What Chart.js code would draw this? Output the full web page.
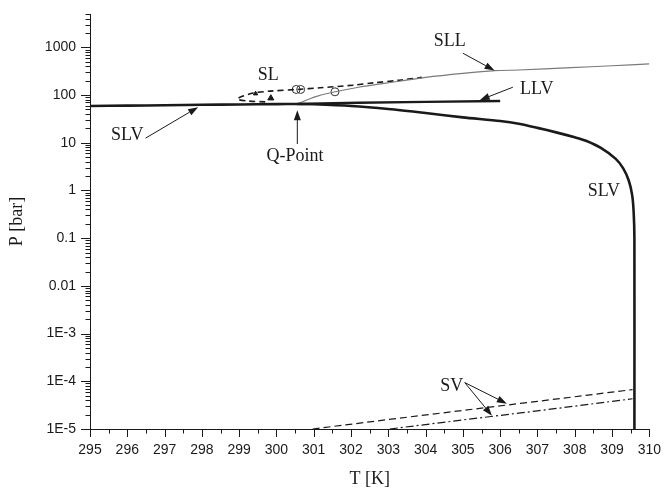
<!DOCTYPE html>
<html><head><meta charset="utf-8">
<script src="https://cdn.jsdelivr.net/npm/chart.js@4.4.1/dist/chart.umd.min.js"></script>
<style>html,body{margin:0;padding:0;background:#fff;}#wrap{width:666px;height:491px;}</style>
</head><body><div id="wrap"><canvas id="c" width="666" height="491"></canvas></div>
<script>
// ---- data (T in K, P in bar) ----
const slvT = [295, 296, 297, 298, 299, 300, 300.56, 301, 302, 303, 304, 305, 306, 306.5, 307, 307.5, 308, 308.3, 308.7, 309.1, 309.3, 309.45, 309.54, 309.58, 309.6, 309.6];
const slvP = [59, 60, 61, 62.5, 63.5, 64.5, 65, 64, 59, 51, 42, 34, 28.5, 25, 20.5, 16.5, 13, 11, 7.8, 4.6, 2.9, 1.6, 0.8, 0.35, 0.1, 1e-5];
const llvT = [300.56, 302.2, 304, 306];
const llvP = [65, 69, 72, 75];
const sllT = [300.56, 300.8, 301.1, 301.57, 302.2, 303.3, 304, 305, 305.85, 306.5, 307.9, 309, 310];
const sllP = [65, 78, 95, 117, 146, 195, 235, 285, 325, 335, 375, 410, 450];
const slT = [299.7, 299.25, 298.95, 299.1, 299.38, 299.83, 300.56, 301.17, 302.05, 302.6, 303.3, 303.9];
const slP = [72, 75, 82, 95, 110, 121, 131, 142, 161, 180, 205, 235];
const svT = [300.97, 303, 305, 307, 309.55];
const svP = [1.0e-5, 1.58e-5, 2.45e-5, 3.8e-5, 6.7e-5];
const sv2T = [303.04, 305, 307, 309.55];
const sv2P = [1.0e-5, 1.55e-5, 2.4e-5, 4.3e-5];
const circT = [300.53, 300.65, 301.57];
const circP = [131, 131, 117];
const triT = [299.44, 299.85];
const triP = [107, 86];
const xTickValues = [295,296,297,298,299,300,301,302,303,304,305,306,307,308,309,310];
const yTickValues = [1e-5, 1e-4, 1e-3, 0.01, 0.1, 1, 10, 100, 1000];
const yTickLabels = ['1E-5','1E-4','1E-3','0.01','0.1','1','10','100','1000'];

const pts = (xs, ys) => xs.map((t, i) => ({x: t, y: ys[i]}));

const notes = [
  {text:'SLL', T:304.65, P:1343},
  {text:'SL', T:299.78, P:261},
  {text:'LLV', T:306.98, P:133},
  {text:'SLV', T:296.0, P:14.5},
  {text:'Q-Point', T:300.5, P:5.3},
  {text:'SLV', T:308.78, P:0.98},
  {text:'SV', T:304.7, P:7.7e-5}
];
const arrows = [
  {from:[305.0,753], to:[305.85,327]},
  {from:[306.34,146], to:[305.45,78]},
  {from:[296.49,12.5], to:[297.9,55.8]},
  {from:[300.56,9.4], to:[300.56,48.3]},
  {from:[305.05,9.4e-5], to:[306.18,3.4e-5]},
  {from:[305.05,9.4e-5], to:[305.78,1.9e-5]}
];

const ink = '#1a1a1a';

const tickPlugin = {
  id: 'tickMarks',
  afterDraw(chart) {
    const {ctx, scales: {x, y}, chartArea: a} = chart;
    ctx.save();
    ctx.strokeStyle = ink; ctx.lineWidth = 1;
    ctx.beginPath();
    xTickValues.forEach(v => {
      const px = Math.round(x.getPixelForValue(v)) + 0.5;
      ctx.moveTo(px, a.bottom); ctx.lineTo(px, a.bottom + 8);
      if (v < 310) {
        const pm = Math.round(x.getPixelForValue(v + 0.5)) + 0.5;
        ctx.moveTo(pm, a.bottom); ctx.lineTo(pm, a.bottom + 4.5);
      }
    });
    yTickValues.forEach(v => {
      const py = Math.round(y.getPixelForValue(v)) + 0.5;
      ctx.moveTo(a.left, py); ctx.lineTo(a.left - 9, py);
      for (let k = 2; k <= 9; k++) {
        const mv = v * k;
        if (mv > y.max) break;
        const pm = Math.round(y.getPixelForValue(mv)) + 0.5;
        ctx.moveTo(a.left, pm); ctx.lineTo(a.left - 4.5, pm);
      }
    });
    ctx.stroke();
    ctx.restore();
  }
};

const notePlugin = {
  id: 'notes',
  afterDatasetsDraw(chart) {
    const {ctx, scales: {x, y}} = chart;
    ctx.save();
    ctx.fillStyle = ink; ctx.strokeStyle = ink; ctx.lineWidth = 1;
    ctx.font = '18px "Liberation Serif", "Times New Roman", serif';
    ctx.textAlign = 'center'; ctx.textBaseline = 'middle';
    notes.forEach(n => ctx.fillText(n.text, x.getPixelForValue(n.T), y.getPixelForValue(n.P)));
    arrows.forEach(ar => {
      const x1 = x.getPixelForValue(ar.from[0]), y1 = y.getPixelForValue(ar.from[1]);
      const x2 = x.getPixelForValue(ar.to[0]), y2 = y.getPixelForValue(ar.to[1]);
      const ang = Math.atan2(y2 - y1, x2 - x1);
      const hl = 10, hw = 3.5;
      const bx = x2 - hl * Math.cos(ang), by = y2 - hl * Math.sin(ang);
      ctx.beginPath(); ctx.moveTo(x1, y1); ctx.lineTo(bx, by); ctx.stroke();
      ctx.beginPath();
      ctx.moveTo(x2, y2);
      ctx.lineTo(bx + hw * Math.sin(ang), by - hw * Math.cos(ang));
      ctx.lineTo(bx - hw * Math.sin(ang), by + hw * Math.cos(ang));
      ctx.closePath(); ctx.fill();
    });
    ctx.restore();
  }
};

const base = {fill: false, pointRadius: 0, borderColor: ink, tension: 0};

new Chart(document.getElementById('c'), {
  type: 'line',
  data: {
    datasets: [
      {...base, label: 'SLV', data: pts(slvT, slvP), borderWidth: 2.6, tension: 0.25},
      {...base, label: 'LLV', data: pts(llvT, llvP), borderWidth: 2.4},
      {...base, label: 'SLL', data: pts(sllT, sllP), borderWidth: 1.1, borderColor: '#7a7a7a', tension: 0.3},
      {...base, label: 'SL', data: pts(slT, slP), borderWidth: 1.6, borderDash: [6, 4], tension: 0.3},
      {...base, label: 'SV', data: pts(svT, svP), borderWidth: 1.2, borderDash: [7, 4]},
      {...base, label: 'SV2', data: pts(sv2T, sv2P), borderWidth: 1.2, borderDash: [8, 3, 2, 3]},
      {label: 'circles', data: pts(circT, circP), showLine: false, pointStyle: 'circle', pointRadius: 4,
        pointBorderColor: '#333', pointBackgroundColor: 'rgba(255,255,255,0)', pointBorderWidth: 1},
      {label: 'tri', data: pts(triT, triP), showLine: false, pointStyle: 'triangle', pointRadius: [2.5, 3.5],
        pointBorderColor: ink, pointBackgroundColor: ink, pointBorderWidth: 1}
    ]
  },
  options: {
    responsive: false, animation: false, devicePixelRatio: 1,
    layout: {padding: {top: 14, right: 16, left: 0, bottom: 0}},
    plugins: {legend: {display: false}, tooltip: {enabled: false}},
    scales: {
      x: {
        type: 'linear', min: 295, max: 310, position: 'bottom',
        grid: {display: false, drawTicks: true, tickLength: 8},
        border: {display: true, color: ink, width: 1},
        afterBuildTicks: s => { s.ticks = xTickValues.map(v => ({value: v})); },
        ticks: {autoSkip: false, maxRotation: 0, padding: 5, color: ink,
          font: {family: '"Liberation Sans", Arial, sans-serif', size: 14}, callback: v => String(v)},
        title: {display: true, text: 'T [K]', color: ink, padding: {top: 0, bottom: 1},
          font: {family: '"Liberation Serif", "Times New Roman", serif', size: 18}},
        afterFit: s => { s.height = 62; }
      },
      y: {
        type: 'logarithmic', min: 1e-5, max: 5000, position: 'left',
        grid: {display: false, drawTicks: true, tickLength: 9},
        border: {display: true, color: ink, width: 1},
        afterBuildTicks: s => { s.ticks = yTickValues.map(v => ({value: v})); },
        ticks: {autoSkip: false, padding: 5, color: ink,
          font: {family: '"Liberation Sans", Arial, sans-serif', size: 14},
          callback: (v) => { const i = yTickValues.findIndex(t => Math.abs(Math.log10(t) - Math.log10(v)) < 1e-6); return i >= 0 ? yTickLabels[i] : ''; }},
        title: {display: true, text: 'P [bar]', color: ink, padding: {top: 6, bottom: 0},
          font: {family: '"Liberation Serif", "Times New Roman", serif', size: 18}},
        afterFit: s => { s.width = 90; }
      }
    }
  },
  plugins: [tickPlugin, notePlugin]
});
</script></body></html>
